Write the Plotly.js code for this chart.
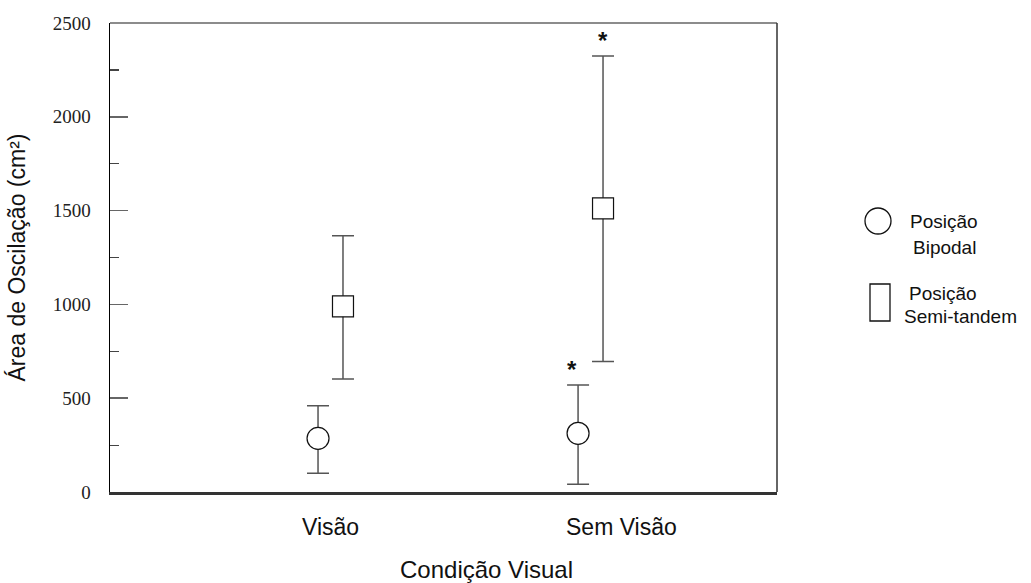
<!DOCTYPE html>
<html><head><meta charset="utf-8">
<script src="https://cdn.plot.ly/plotly-3.0.1.min.js"></script>
<style>html,body{margin:0;padding:0;background:#fff}#chart{width:1031px;height:583px}</style>
</head><body><div id="chart"></div>
<script>
// ---- data ----
const categories = ['Visão', 'Sem Visão'];
const bipodalMean  = [286, 313];
const bipodalUpper = [174, 257];
const bipodalLower = [186, 272];
const semiMean  = [990, 1512];
const semiUpper = [376, 812];
const semiLower = [388, 817];
const bipodalSig = [false, true];
const semiSig    = [false, true];
const yTickVals = [0, 500, 1000, 1500, 2000, 2500];
const seriesNames = ['Posição Bipodal', 'Posição Semi-tandem'];

// ---- layout geometry ----
const W = 1031, H = 583;
const L = 110, R = 777, T = 23, B = 492;
const pw = R - L, ph = B - T;
const px = x => (x - L) / pw;
const py = y => 1 - (y - T) / ph;
const off = 0.048;
const catIdx = categories.map((c, i) => i);

const errStyle = {type: 'data', symmetric: false, color: '#555', thickness: 1.5, width: 11};

const traces = [
  {
    x: catIdx.map(i => i - off), y: bipodalMean, mode: 'markers', type: 'scatter', name: seriesNames[0],
    error_y: Object.assign({array: bipodalUpper, arrayminus: bipodalLower}, errStyle),
    marker: {symbol: 'circle', size: 22, color: '#fff', line: {color: '#111', width: 1.2}},
    showlegend: false, hoverinfo: 'y'
  },
  {
    x: catIdx.map(i => i + off), y: semiMean, mode: 'markers', type: 'scatter', name: seriesNames[1],
    error_y: Object.assign({array: semiUpper, arrayminus: semiLower}, errStyle),
    marker: {symbol: 'square', size: 21, color: '#fff', line: {color: '#111', width: 1.2}},
    showlegend: false, hoverinfo: 'y'
  }
];

const sans = 'Liberation Sans, Arial, sans-serif';
const annotations = [];
// significance asterisks
bipodalSig.forEach((s, i) => { if (s) annotations.push({x: i - off, y: bipodalMean[i] + bipodalUpper[i], xref: 'x', yref: 'y', text: '<b>*</b>', showarrow: false, yanchor: 'bottom', xshift: -6, yshift: 0, font: {family: sans, size: 24, color: '#111'}}); });
semiSig.forEach((s, i) => { if (s) annotations.push({x: i + off, y: semiMean[i] + semiUpper[i], xref: 'x', yref: 'y', text: '<b>*</b>', showarrow: false, yanchor: 'bottom', xshift: 0, yshift: 0, font: {family: sans, size: 24, color: '#111'}}); });
// category labels
const labelShift = [0, 31];
categories.forEach((c, i) => annotations.push({x: i, y: py(527), xref: 'x', yref: 'paper', text: c, showarrow: false, xshift: labelShift[i], yanchor: 'middle', font: {family: sans, size: 23, color: '#111'}}));
// x axis title
annotations.push({x: px(487), y: py(569), xref: 'paper', yref: 'paper', text: 'Condição Visual', showarrow: false, xanchor: 'center', yanchor: 'middle', font: {family: sans, size: 24, color: '#111'}});
// legend text
annotations.push({x: px(944), y: py(222), xref: 'paper', yref: 'paper', text: 'Posição', showarrow: false, xanchor: 'center', yanchor: 'middle', font: {family: sans, size: 19, color: '#111'}});
annotations.push({x: px(944), y: py(247), xref: 'paper', yref: 'paper', text: 'Bipodal', showarrow: false, xanchor: 'center', yanchor: 'middle', font: {family: sans, size: 19, color: '#111'}});
annotations.push({x: px(907), y: py(293), xref: 'paper', yref: 'paper', text: 'Posição', showarrow: false, xanchor: 'left', yanchor: 'middle', font: {family: sans, size: 19, color: '#111'}});
annotations.push({x: px(902), y: py(316), xref: 'paper', yref: 'paper', text: 'Semi-tandem', showarrow: false, xanchor: 'left', yanchor: 'middle', font: {family: sans, size: 19, color: '#111'}});

const shapes = [
  {type: 'line', xref: 'paper', yref: 'paper', x0: 0, x1: 1, y0: 1, y1: 1, line: {color: '#666', width: 1.5}},
  {type: 'line', xref: 'paper', yref: 'paper', x0: 1, x1: 1, y0: 0, y1: 1, line: {color: '#333', width: 1.5}},
  {type: 'circle', xref: 'paper', yref: 'paper', x0: px(865), x1: px(891), y0: py(208), y1: py(234), line: {color: '#111', width: 1.3}},
  {type: 'rect', xref: 'paper', yref: 'paper', x0: px(870), x1: px(890), y0: py(284), y1: py(321), line: {color: '#111', width: 1.3}}
];

const layout = {
  width: W, height: H,
  margin: {l: L, r: W - R, t: T, b: H - B, pad: 0},
  paper_bgcolor: '#fff', plot_bgcolor: '#fff',
  showlegend: false,
  xaxis: {
    range: [-0.848, 1.717], showticklabels: false, ticks: '', showgrid: false, zeroline: false,
    showline: true, linecolor: '#333', linewidth: 2.5
  },
  yaxis: {
    range: [0, 2500], tickvals: yTickVals, ticks: 'inside', ticklen: 18, tickwidth: 1.5, tickcolor: '#666',
    minor: {dtick: 250, tick0: 0, ticks: 'inside', ticklen: 9, tickwidth: 1.2, tickcolor: '#444'},
    showgrid: false, zeroline: false, showline: true, linecolor: '#000', linewidth: 1.5,
    tickfont: {family: 'Liberation Serif, Times New Roman, serif', size: 19, color: '#222'},
    ticklabelstandoff: 14,
    title: {text: 'Área de Oscilação (cm²)', font: {family: sans, size: 23, color: '#111'}, standoff: 20}
  },
  annotations: annotations,
  shapes: shapes
};

Plotly.newPlot('chart', traces, layout, {displayModeBar: false, staticPlot: true});
</script>
</body></html>
